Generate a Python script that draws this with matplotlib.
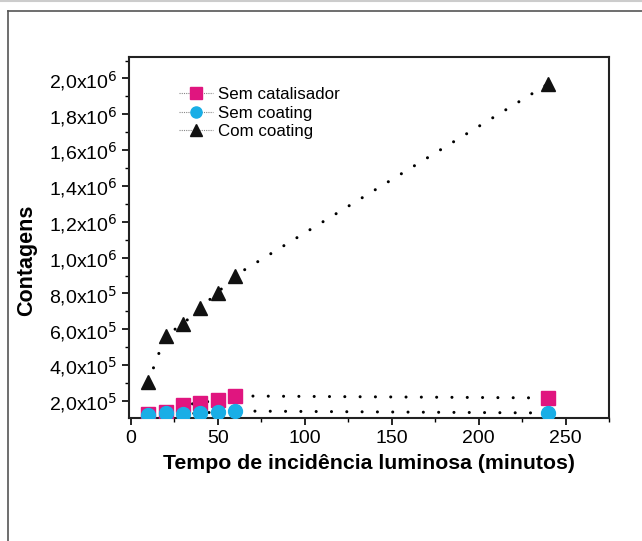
import matplotlib.pyplot as plt
from matplotlib.ticker import FuncFormatter, MultipleLocator
from matplotlib.lines import Line2D

plt.rcParams['font.family'] = ['Liberation Sans', 'DejaVu Sans']

tempo = [10, 20, 30, 40, 50, 60, 240]
sem_catalisador = [1.27e5, 1.38e5, 1.78e5, 1.89e5, 2.06e5, 2.28e5, 2.17e5]
sem_coating = [1.20e5, 1.35e5, 1.27e5, 1.33e5, 1.38e5, 1.44e5, 1.33e5]
com_coating = [3.05e5, 5.65e5, 6.3e5, 7.2e5, 8.05e5, 9.0e5, 1.97e6]

labels = ['Sem catalisador', 'Sem coating', 'Com coating']
colors = ['#e0157f', '#19aee6', '#111111']
markers = ['s', 'o', '^']


def sci_fmt(v, pos):
    exp = 6 if v >= 1e6 - 1 else 5
    mant = v / 10 ** exp
    return ('%.1f' % mant).replace('.', ',') + r'x10$^{%d}$' % exp


fig = plt.figure(figsize=(6.42, 5.41), dpi=100)

# outer frame of the figure
fig.add_artist(Line2D([8 / 642, 8 / 642], [0, 1 - 11 / 541], transform=fig.transFigure,
                      color='#555555', lw=1.2))
fig.add_artist(Line2D([8 / 642, 1], [1 - 11 / 541, 1 - 11 / 541], transform=fig.transFigure,
                      color='#555555', lw=1.2))
fig.add_artist(Line2D([0, 1], [1 - 1 / 541, 1 - 1 / 541], transform=fig.transFigure,
                      color='#cccccc', lw=1.5))

ax = fig.add_axes([129 / 642, 123 / 541, 480 / 642, 361 / 541])

for ys, c, m, lab in zip([sem_catalisador, sem_coating, com_coating], colors, markers, labels):
    ax.plot(tempo, ys, linestyle=(0, (0.01, 5)), color='black', lw=2.2,
            dash_capstyle='round', zorder=2)
    ax.plot(tempo, ys, linestyle='none', marker=m, color=c, markersize=10,
            markeredgecolor=c, zorder=3)

handles = [Line2D([], [], color='#888888', lw=0.8, linestyle=(0, (1, 1)),
                  marker=m, markersize=8, markerfacecolor=c, markeredgecolor=c)
           for c, m in zip(colors, markers)]
ax.legend(handles, labels, loc='upper left', bbox_to_anchor=(0.08, 0.95),
          frameon=False, fontsize=12.2, handlelength=2.0, labelspacing=0.22,
          handletextpad=0.3, borderpad=0.2)

ax.set_xlim(-1, 275)
ax.set_ylim(1.05e5, 2.12e6)
ax.xaxis.set_major_locator(MultipleLocator(50))
ax.xaxis.set_minor_locator(MultipleLocator(25))
ax.yaxis.set_major_locator(MultipleLocator(2e5))
ax.yaxis.set_minor_locator(MultipleLocator(1e5))
ax.yaxis.set_major_formatter(FuncFormatter(sci_fmt))

ax.tick_params(which='major', direction='out', length=5, width=1.2, labelsize=14)
ax.tick_params(which='minor', direction='out', length=3, width=1)
for s in ax.spines.values():
    s.set_linewidth(1.5)
    s.set_color('#222222')

ax.set_xlabel('Tempo de incidência luminosa (minutos)', fontsize=15.3, fontweight='bold',
              labelpad=5)
ax.set_ylabel('Contagens', fontsize=15.5, fontweight='bold')
ax.yaxis.set_label_coords(-0.192, 0.438)

fig.savefig('out.png', dpi=100)
